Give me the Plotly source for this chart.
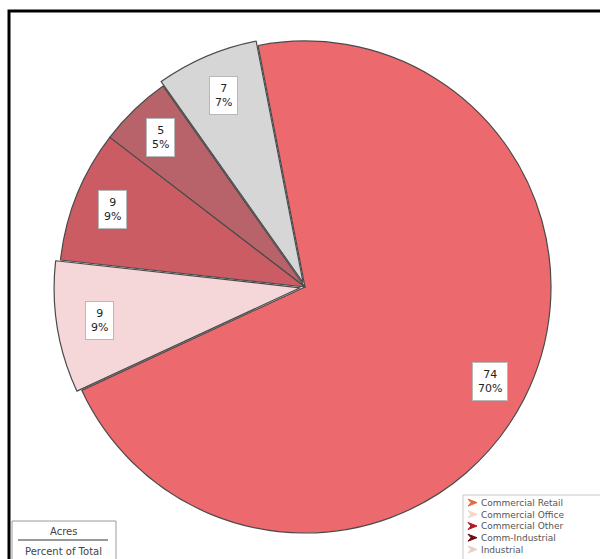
import math
import plotly.graph_objects as go

# ---- data ----
categories = ["Commercial Retail", "Commercial Office", "Commercial Other",
              "Comm-Industrial", "Industrial"]
acres = [74, 7, 5, 9, 9]
percent_labels = ["70%", "7%", "5%", "9%", "9%"]
slice_colors = ["#ec6a6d", "#d6d6d6", "#b8636a", "#cc5c64", "#f6d7d9"]
legend_colors = ["#e8683c", "#f6d6c2", "#b41a26", "#6e0a12", "#e9cfc8"]
pulls = [0, 0.02, 0, 0, 0.02]

W, H = 600, 559
cx, cy, R = 305, 287, 246          # pie centre / radius in px
rotation = -11

def px(x):
    return x / W

def py(y):
    return 1 - y / H

maxpull = max(pulls)
half = R * (1 + maxpull)

fig = go.Figure()
fig.add_trace(go.Pie(
    labels=categories,
    values=acres,
    sort=False,
    direction="counterclockwise",
    rotation=rotation,
    pull=pulls,
    textinfo="none",
    hoverinfo="label+value+percent",
    marker=dict(colors=slice_colors, line=dict(color="#4a4a4a", width=1.2)),
    domain=dict(x=[px(cx - half), px(cx + half)], y=[py(cy + half), py(cy - half)]),
    showlegend=False,
))

# ---- slice labels (boxes) computed from the data ----
total = sum(acres)
annotations = []
angles = []
span0 = acres[0] / total * 360
angles.append(rotation + span0 / 2)
cur = rotation
for v in acres[1:]:
    span = v / total * 360
    angles.append(cur - span / 2)
    cur -= span
for i, (v, p, a) in enumerate(zip(acres, percent_labels, angles)):
    k = 0.845
    th = math.radians(a)
    x = cx + k * R * math.sin(th)
    y = cy - k * R * math.cos(th)
    annotations.append(dict(
        x=px(x), y=py(y), xref="paper", yref="paper",
        text=f"{v}<br>{p}", showarrow=False,
        font=dict(family="DejaVu Sans", size=11, color="#222222"),
        bgcolor="white", bordercolor="#b8b8b8", borderwidth=1, borderpad=5,
        xanchor="center", yanchor="middle", align="center",
    ))

# ---- custom legend ----
shapes = []
leg_x0, leg_y0 = 463, 495
shapes.append(dict(type="rect", xref="paper", yref="paper",
                   x0=px(leg_x0), x1=px(610), y0=py(leg_y0), y1=py(570),
                   line=dict(color="#c8c8c8", width=1), fillcolor="white", layer="above"))
leg_font = 9
row_h = leg_font * 1.3
mid_y = 526
annotations.append(dict(
    x=px(479), y=py(mid_y), xref="paper", yref="paper",
    text="<br>".join(categories), showarrow=False,
    xanchor="left", yanchor="middle", align="left",
    font=dict(family="DejaVu Sans", size=leg_font, color="#555555"),
))
n = len(categories)
for i, col in enumerate(legend_colors):
    yc = mid_y + (i - (n - 1) / 2) * row_h
    mx = 468
    path = (f"M {px(mx)},{py(yc - 3.5)} L {px(mx + 9)},{py(yc)} "
            f"L {px(mx)},{py(yc + 3.5)} L {px(mx + 3)},{py(yc)} Z")
    shapes.append(dict(type="path", xref="paper", yref="paper", path=path,
                       fillcolor=col, line=dict(color=col, width=1), layer="above"))

# ---- bottom-left key box ----
shapes.append(dict(type="rect", xref="paper", yref="paper",
                   x0=px(12), x1=px(116), y0=py(521), y1=py(570),
                   line=dict(color="#9a9a9a", width=1), fillcolor="white", layer="above"))
shapes.append(dict(type="line", xref="paper", yref="paper",
                   x0=px(18), x1=px(108), y0=py(540), y1=py(540),
                   line=dict(color="#333333", width=1.2), layer="above"))
annotations.append(dict(x=px(63), y=py(531), xref="paper", yref="paper", text="Acres",
                        showarrow=False, xanchor="center", yanchor="middle",
                        font=dict(family="DejaVu Sans", size=10, color="#444444")))
annotations.append(dict(x=px(63), y=py(551), xref="paper", yref="paper",
                        text="Percent of Total", showarrow=False,
                        xanchor="center", yanchor="middle",
                        font=dict(family="DejaVu Sans", size=10, color="#444444")))

# ---- outer black frame ----
shapes.append(dict(type="rect", xref="paper", yref="paper",
                   x0=px(9), x1=px(620), y0=py(580), y1=py(11),
                   line=dict(color="black", width=3), layer="above"))

fig.update_layout(
    width=W, height=H,
    margin=dict(l=0, r=0, t=0, b=0),
    paper_bgcolor="white", plot_bgcolor="white",
    annotations=annotations, shapes=shapes,
)

fig.write_html("out.html")
